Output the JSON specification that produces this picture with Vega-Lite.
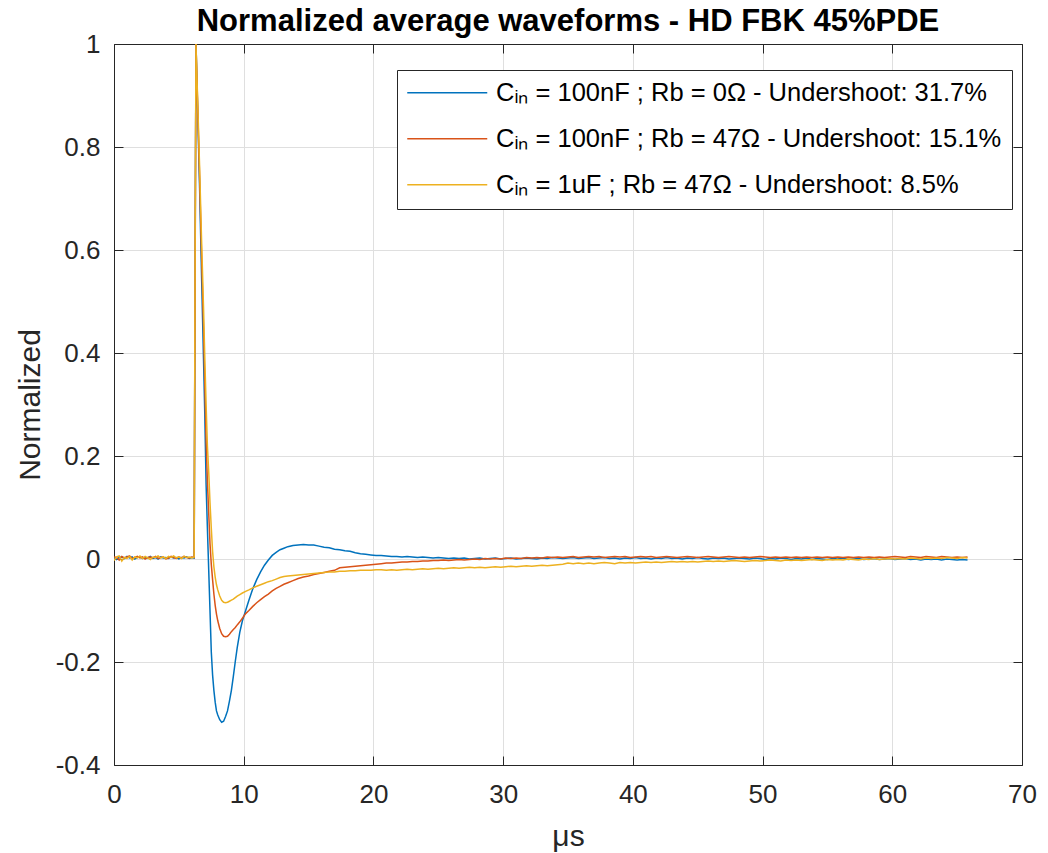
{
  "$schema": "https://vega.github.io/schema/vega-lite/v6.json",
  "width": 908,
  "height": 721,
  "autosize": {"type": "none"},
  "padding": {"left": 114, "top": 44, "right": 26, "bottom": 88},
  "background": "white",
  "title": {
    "text": "Normalized average waveforms - HD FBK 45%PDE",
    "font": "Liberation Sans",
    "fontSize": 31,
    "fontWeight": "bold",
    "color": "#000000",
    "anchor": "middle",
    "baseline": "alphabetic",
    "offset": 1,
    "dy": 32
  },
  "config": {
    "view": {"stroke": null},
    "font": "Liberation Sans",
    "axis": {
      "domainColor": "#262626",
      "domainWidth": 1,
      "tickColor": "#262626",
      "tickWidth": 1,
      "tickSize": -9,
      "labelFont": "Liberation Sans",
      "labelFontSize": 26,
      "labelColor": "#262626",
      "labelFlush": false,
      "labelOverlap": false,
      "gridColor": "#dfdfdf",
      "gridWidth": 1,
      "titleFont": "Liberation Sans",
      "titleFontSize": 30,
      "titleFontWeight": "normal",
      "titleColor": "#262626"
    }
  },
  "data": {
    "values": [
      {"t": 0, "a": 0.002, "b": 0.004, "c": -0.003},
      {"t": 0.2, "a": -0.001, "b": 0.003, "c": 0.004},
      {"t": 0.4, "a": 0.003, "b": -0.002, "c": 0.006},
      {"t": 0.6, "a": 0.004, "b": 0.005, "c": -0.004},
      {"t": 0.8, "a": 0.001, "b": 0.002, "c": 0.003},
      {"t": 1.0, "a": 0.005, "b": 0.004, "c": 0.001},
      {"t": 1.2, "a": 0.002, "b": 0.006, "c": 0.005},
      {"t": 1.4, "a": 0.004, "b": 0.001, "c": -0.002},
      {"t": 1.6, "a": 0.0, "b": 0.003, "c": 0.004},
      {"t": 1.8, "a": 0.003, "b": 0.005, "c": 0.002},
      {"t": 2.0, "a": 0.004, "b": 0.002, "c": 0.006},
      {"t": 2.2, "a": 0.001, "b": 0.004, "c": 0.001},
      {"t": 2.4, "a": 0.003, "b": 0.0, "c": 0.005},
      {"t": 2.6, "a": 0.002, "b": 0.003, "c": 0.002},
      {"t": 2.8, "a": 0.005, "b": 0.004, "c": -0.001},
      {"t": 3.0, "a": 0.001, "b": 0.002, "c": 0.004},
      {"t": 3.2, "a": 0.003, "b": 0.005, "c": 0.003},
      {"t": 3.4, "a": 0.0, "b": 0.001, "c": 0.006},
      {"t": 3.6, "a": 0.004, "b": 0.003, "c": 0.002},
      {"t": 3.8, "a": 0.002, "b": 0.004, "c": 0.004},
      {"t": 4.0, "a": 0.003, "b": 0.0, "c": 0.001},
      {"t": 4.2, "a": 0.001, "b": 0.002, "c": 0.005},
      {"t": 4.4, "a": 0.004, "b": 0.005, "c": 0.003},
      {"t": 4.6, "a": 0.002, "b": 0.003, "c": 0.006},
      {"t": 4.8, "a": 0.003, "b": 0.001, "c": 0.002},
      {"t": 5.0, "a": 0.0, "b": 0.004, "c": 0.004},
      {"t": 5.2, "a": 0.003, "b": 0.002, "c": 0.001},
      {"t": 5.4, "a": 0.002, "b": 0.005, "c": 0.005},
      {"t": 5.6, "a": 0.004, "b": 0.003, "c": 0.003},
      {"t": 5.8, "a": 0.001, "b": 0.002, "c": 0.004},
      {"t": 6.0, "a": 0.003, "b": 0.004, "c": 0.002},
      {"t": 6.18, "a": 0.002, "b": 0.003, "c": 0.004},
      {"t": 6.26, "a": 0.62, "b": 0.6, "c": 0.65},
      {"t": 6.32, "a": 1.0, "b": 1.0, "c": 1.0},
      {"t": 6.45, "a": 0.87, "b": 0.88, "c": 0.89},
      {"t": 6.6, "a": 0.72, "b": 0.74, "c": 0.76},
      {"t": 6.75, "a": 0.55, "b": 0.59, "c": 0.62},
      {"t": 6.9, "a": 0.39, "b": 0.45, "c": 0.49},
      {"t": 7.0, "a": 0.28, "b": 0.34, "c": 0.39},
      {"t": 7.1, "a": 0.145, "b": 0.23, "c": 0.3},
      {"t": 7.2, "a": 0.06, "b": 0.15, "c": 0.22},
      {"t": 7.3, "a": -0.02, "b": 0.09, "c": 0.17},
      {"t": 7.4, "a": -0.1, "b": 0.03, "c": 0.11},
      {"t": 7.5, "a": -0.18, "b": -0.01, "c": 0.06},
      {"t": 7.6, "a": -0.225, "b": -0.04, "c": 0.015},
      {"t": 7.7, "a": -0.255, "b": -0.068, "c": -0.015},
      {"t": 7.8, "a": -0.278, "b": -0.09, "c": -0.035},
      {"t": 7.9, "a": -0.295, "b": -0.107, "c": -0.05},
      {"t": 8.0, "a": -0.303, "b": -0.12, "c": -0.06},
      {"t": 8.15, "a": -0.312, "b": -0.135, "c": -0.072},
      {"t": 8.3, "a": -0.317, "b": -0.145, "c": -0.08},
      {"t": 8.45, "a": -0.315, "b": -0.15, "c": -0.084},
      {"t": 8.6, "a": -0.306, "b": -0.151, "c": -0.085},
      {"t": 8.75, "a": -0.295, "b": -0.15, "c": -0.084},
      {"t": 8.9, "a": -0.276, "b": -0.146, "c": -0.082},
      {"t": 9.05, "a": -0.255, "b": -0.141, "c": -0.08},
      {"t": 9.2, "a": -0.228, "b": -0.137, "c": -0.078},
      {"t": 9.35, "a": -0.199, "b": -0.133, "c": -0.075},
      {"t": 9.5, "a": -0.172, "b": -0.128, "c": -0.072},
      {"t": 9.7, "a": -0.142, "b": -0.122, "c": -0.069},
      {"t": 9.9, "a": -0.12, "b": -0.115, "c": -0.066},
      {"t": 10.15, "a": -0.1, "b": -0.106, "c": -0.063},
      {"t": 10.4, "a": -0.08, "b": -0.1, "c": -0.06},
      {"t": 10.7, "a": -0.058, "b": -0.092, "c": -0.056},
      {"t": 11.0, "a": -0.04, "b": -0.085, "c": -0.053},
      {"t": 11.3, "a": -0.025, "b": -0.079, "c": -0.05},
      {"t": 11.6, "a": -0.012, "b": -0.073, "c": -0.047},
      {"t": 11.9, "a": -0.002, "b": -0.068, "c": -0.044},
      {"t": 12.2, "a": 0.007, "b": -0.062, "c": -0.042},
      {"t": 12.5, "a": 0.013, "b": -0.057, "c": -0.039},
      {"t": 12.8, "a": 0.018, "b": -0.053, "c": -0.036},
      {"t": 13.1, "a": 0.021, "b": -0.049, "c": -0.034},
      {"t": 13.4, "a": 0.024, "b": -0.046, "c": -0.033},
      {"t": 13.8, "a": 0.026, "b": -0.042, "c": -0.032},
      {"t": 14.2, "a": 0.027, "b": -0.038, "c": -0.031},
      {"t": 14.6, "a": 0.028, "b": -0.035, "c": -0.03},
      {"t": 15.0, "a": 0.027, "b": -0.033, "c": -0.029},
      {"t": 15.4, "a": 0.027, "b": -0.03, "c": -0.028},
      {"t": 15.8, "a": 0.025, "b": -0.028, "c": -0.027},
      {"t": 16.2, "a": 0.023, "b": -0.026, "c": -0.026},
      {"t": 16.6, "a": 0.022, "b": -0.024, "c": -0.025},
      {"t": 17.0, "a": 0.019, "b": -0.022, "c": -0.025},
      {"t": 17.4, "a": 0.018, "b": -0.017, "c": -0.024},
      {"t": 17.8, "a": 0.016, "b": -0.016, "c": -0.024},
      {"t": 18.2, "a": 0.015, "b": -0.015, "c": -0.023},
      {"t": 18.6, "a": 0.012, "b": -0.014, "c": -0.023},
      {"t": 19.0, "a": 0.01, "b": -0.013, "c": -0.022},
      {"t": 19.4, "a": 0.009, "b": -0.012, "c": -0.022},
      {"t": 19.8, "a": 0.008, "b": -0.011, "c": -0.022},
      {"t": 20.2, "a": 0.007, "b": -0.01, "c": -0.021},
      {"t": 20.6, "a": 0.007, "b": -0.009, "c": -0.021},
      {"t": 21.0, "a": 0.006, "b": -0.008, "c": -0.022},
      {"t": 21.4, "a": 0.005, "b": -0.008, "c": -0.021},
      {"t": 21.8, "a": 0.005, "b": -0.007, "c": -0.022},
      {"t": 22.2, "a": 0.004, "b": -0.006, "c": -0.021},
      {"t": 22.6, "a": 0.005, "b": -0.006, "c": -0.02},
      {"t": 23.0, "a": 0.004, "b": -0.005, "c": -0.021},
      {"t": 23.4, "a": 0.003, "b": -0.005, "c": -0.02},
      {"t": 23.8, "a": 0.004, "b": -0.004, "c": -0.019},
      {"t": 24.2, "a": 0.003, "b": -0.004, "c": -0.02},
      {"t": 24.6, "a": 0.002, "b": -0.003, "c": -0.019},
      {"t": 25.0, "a": 0.003, "b": -0.003, "c": -0.018},
      {"t": 25.4, "a": 0.002, "b": -0.002, "c": -0.019},
      {"t": 25.8, "a": 0.001, "b": -0.003, "c": -0.018},
      {"t": 26.2, "a": 0.002, "b": -0.002, "c": -0.017},
      {"t": 26.6, "a": 0.001, "b": -0.001, "c": -0.018},
      {"t": 27.0, "a": 0.002, "b": -0.002, "c": -0.017},
      {"t": 27.4, "a": 0.0, "b": -0.001, "c": -0.016},
      {"t": 27.8, "a": 0.001, "b": 0.0, "c": -0.017},
      {"t": 28.2, "a": 0.002, "b": -0.001, "c": -0.016},
      {"t": 28.6, "a": 0.0, "b": 0.001, "c": -0.017},
      {"t": 29.0, "a": 0.001, "b": 0.0, "c": -0.016},
      {"t": 29.4, "a": 0.002, "b": 0.001, "c": -0.015},
      {"t": 29.8, "a": 0.0, "b": 0.0, "c": -0.016},
      {"t": 30.2, "a": 0.001, "b": 0.002, "c": -0.015},
      {"t": 30.6, "a": 0.002, "b": 0.001, "c": -0.014},
      {"t": 31.0, "a": 0.0, "b": 0.002, "c": -0.015},
      {"t": 31.4, "a": 0.001, "b": 0.001, "c": -0.014},
      {"t": 31.8, "a": 0.002, "b": 0.003, "c": -0.013},
      {"t": 32.2, "a": 0.001, "b": 0.002, "c": -0.014},
      {"t": 32.6, "a": 0.0, "b": 0.003, "c": -0.013},
      {"t": 33.0, "a": 0.002, "b": 0.002, "c": -0.012},
      {"t": 33.4, "a": 0.001, "b": 0.004, "c": -0.013},
      {"t": 33.8, "a": 0.003, "b": 0.003, "c": -0.012},
      {"t": 34.2, "a": 0.002, "b": 0.004, "c": -0.011},
      {"t": 34.6, "a": 0.001, "b": 0.003, "c": -0.01},
      {"t": 35.0, "a": 0.002, "b": 0.004, "c": -0.008},
      {"t": 35.4, "a": 0.003, "b": 0.005, "c": -0.009},
      {"t": 35.8, "a": 0.001, "b": 0.003, "c": -0.008},
      {"t": 36.2, "a": 0.002, "b": 0.004, "c": -0.009},
      {"t": 36.6, "a": 0.003, "b": 0.005, "c": -0.008},
      {"t": 37.0, "a": 0.001, "b": 0.004, "c": -0.009},
      {"t": 37.4, "a": 0.002, "b": 0.005, "c": -0.008},
      {"t": 37.8, "a": 0.003, "b": 0.003, "c": -0.007},
      {"t": 38.2, "a": 0.001, "b": 0.004, "c": -0.008},
      {"t": 38.6, "a": 0.002, "b": 0.005, "c": -0.009},
      {"t": 39.0, "a": 0.0, "b": 0.004, "c": -0.007},
      {"t": 39.4, "a": 0.002, "b": 0.005, "c": -0.008},
      {"t": 39.8, "a": 0.001, "b": 0.003, "c": -0.007},
      {"t": 40.2, "a": 0.003, "b": 0.004, "c": -0.008},
      {"t": 40.6, "a": 0.001, "b": 0.005, "c": -0.007},
      {"t": 41.0, "a": 0.002, "b": 0.004, "c": -0.006},
      {"t": 41.4, "a": 0.0, "b": 0.005, "c": -0.007},
      {"t": 41.8, "a": 0.002, "b": 0.003, "c": -0.006},
      {"t": 42.2, "a": 0.001, "b": 0.004, "c": -0.007},
      {"t": 42.6, "a": 0.003, "b": 0.005, "c": -0.006},
      {"t": 43.0, "a": 0.001, "b": 0.004, "c": -0.005},
      {"t": 43.4, "a": 0.002, "b": 0.003, "c": -0.006},
      {"t": 43.8, "a": 0.0, "b": 0.004, "c": -0.005},
      {"t": 44.2, "a": 0.002, "b": 0.005, "c": -0.006},
      {"t": 44.6, "a": 0.001, "b": 0.004, "c": -0.005},
      {"t": 45.0, "a": 0.003, "b": 0.003, "c": -0.006},
      {"t": 45.4, "a": 0.001, "b": 0.004, "c": -0.005},
      {"t": 45.8, "a": 0.0, "b": 0.005, "c": -0.004},
      {"t": 46.2, "a": 0.002, "b": 0.004, "c": -0.005},
      {"t": 46.6, "a": 0.001, "b": 0.003, "c": -0.004},
      {"t": 47.0, "a": 0.002, "b": 0.004, "c": -0.005},
      {"t": 47.4, "a": 0.0, "b": 0.005, "c": -0.004},
      {"t": 47.8, "a": 0.001, "b": 0.004, "c": -0.003},
      {"t": 48.2, "a": 0.002, "b": 0.003, "c": -0.004},
      {"t": 48.6, "a": 0.001, "b": 0.004, "c": -0.005},
      {"t": 49.0, "a": 0.0, "b": 0.003, "c": -0.004},
      {"t": 49.4, "a": 0.002, "b": 0.004, "c": -0.003},
      {"t": 49.8, "a": 0.001, "b": 0.005, "c": -0.004},
      {"t": 50.2, "a": -0.001, "b": 0.004, "c": -0.003},
      {"t": 50.6, "a": 0.001, "b": 0.003, "c": -0.002},
      {"t": 51.0, "a": 0.0, "b": 0.004, "c": -0.003},
      {"t": 51.4, "a": 0.002, "b": 0.003, "c": -0.004},
      {"t": 51.8, "a": 0.001, "b": 0.004, "c": -0.002},
      {"t": 52.2, "a": -0.001, "b": 0.003, "c": -0.003},
      {"t": 52.6, "a": 0.001, "b": 0.004, "c": -0.002},
      {"t": 53.0, "a": 0.0, "b": 0.003, "c": -0.003},
      {"t": 53.4, "a": 0.002, "b": 0.004, "c": -0.002},
      {"t": 53.8, "a": -0.001, "b": 0.003, "c": -0.001},
      {"t": 54.2, "a": 0.001, "b": 0.004, "c": -0.002},
      {"t": 54.6, "a": 0.0, "b": 0.003, "c": -0.003},
      {"t": 55.0, "a": -0.001, "b": 0.004, "c": -0.001},
      {"t": 55.4, "a": 0.001, "b": 0.003, "c": -0.002},
      {"t": 55.8, "a": 0.0, "b": 0.004, "c": -0.001},
      {"t": 56.2, "a": 0.002, "b": 0.003, "c": -0.002},
      {"t": 56.6, "a": -0.001, "b": 0.004, "c": 0.0},
      {"t": 57.0, "a": 0.0, "b": 0.003, "c": -0.001},
      {"t": 57.4, "a": 0.001, "b": 0.004, "c": -0.002},
      {"t": 57.8, "a": -0.001, "b": 0.003, "c": 0.0},
      {"t": 58.2, "a": 0.0, "b": 0.004, "c": -0.001},
      {"t": 58.6, "a": 0.001, "b": 0.003, "c": 0.001},
      {"t": 59.0, "a": -0.001, "b": 0.004, "c": -0.001},
      {"t": 59.4, "a": 0.0, "b": 0.003, "c": 0.0},
      {"t": 59.8, "a": 0.001, "b": 0.004, "c": 0.001},
      {"t": 60.2, "a": -0.001, "b": 0.005, "c": 0.0},
      {"t": 60.6, "a": 0.0, "b": 0.004, "c": 0.001},
      {"t": 61.0, "a": 0.001, "b": 0.003, "c": 0.0},
      {"t": 61.4, "a": -0.001, "b": 0.005, "c": 0.002},
      {"t": 61.8, "a": 0.0, "b": 0.004, "c": 0.001},
      {"t": 62.2, "a": -0.002, "b": 0.003, "c": 0.0},
      {"t": 62.6, "a": 0.0, "b": 0.005, "c": 0.002},
      {"t": 63.0, "a": -0.001, "b": 0.004, "c": 0.001},
      {"t": 63.4, "a": 0.0, "b": 0.003, "c": 0.002},
      {"t": 63.8, "a": -0.002, "b": 0.005, "c": 0.001},
      {"t": 64.2, "a": 0.0, "b": 0.004, "c": 0.003},
      {"t": 64.6, "a": -0.001, "b": 0.003, "c": 0.002},
      {"t": 65.0, "a": -0.002, "b": 0.004, "c": 0.001},
      {"t": 65.4, "a": -0.001, "b": 0.003, "c": 0.003},
      {"t": 65.8, "a": -0.002, "b": 0.004, "c": 0.002}
    ]
  },
  "layer": [
    {
      "mark": {"type": "line", "strokeWidth": 1.5, "clip": true},
      "encoding": {
        "x": {
          "field": "t",
          "type": "quantitative",
          "scale": {"domain": [0, 70], "nice": false, "zero": false},
          "axis": {
            "orient": "bottom",
            "values": [0, 10, 20, 30, 40, 50, 60, 70],
            "grid": true,
            "labelPadding": 25,
            "title": "μs",
            "titlePadding": 14
          }
        },
        "y": {
          "field": "a",
          "type": "quantitative",
          "scale": {"domain": [-0.4, 1], "nice": false, "zero": false},
          "axis": {
            "orient": "left",
            "values": [-0.4, -0.2, 0, 0.2, 0.4, 0.6, 0.8, 1],
            "labelExpr": "toString(datum.value)",
            "grid": true,
            "labelPadding": 23,
            "title": "Normalized",
            "titlePadding": 10
          }
        },
        "color": {
          "datum": "Cᵢₙ = 100nF ; Rb = 0Ω - Undershoot: 31.7%",
          "type": "nominal",
          "scale": {
            "domain": [
              "Cᵢₙ = 100nF ; Rb = 0Ω - Undershoot: 31.7%",
              "Cᵢₙ = 100nF ; Rb = 47Ω - Undershoot: 15.1%",
              "Cᵢₙ = 1uF ; Rb = 47Ω - Undershoot: 8.5%"
            ],
            "range": ["#0072BD", "#D95319", "#EDB120"]
          },
          "legend": {
            "orient": "none",
            "legendX": 283,
            "legendY": 26,
            "title": null,
            "symbolType": "M-4,0H4",
            "symbolSize": 400,
            "symbolStrokeWidth": 1.5,
            "symbolOffset": 27.5,
            "labelOffset": 36,
            "labelFont": "Liberation Sans",
            "labelFontSize": 25.5,
            "labelColor": "#000000",
            "labelLimit": 0,
            "rowPadding": 19,
            "padding": 10,
            "strokeColor": "#262626",
            "fillColor": "#ffffff",
            "cornerRadius": 0
          }
        }
      }
    },
    {
      "mark": {"type": "line", "strokeWidth": 1.5, "clip": true},
      "encoding": {
        "x": {
          "field": "t",
          "type": "quantitative",
          "axis": {
            "orient": "top",
            "values": [0, 10, 20, 30, 40, 50, 60, 70],
            "grid": false,
            "labels": false,
            "title": null
          }
        },
        "y": {
          "field": "b",
          "type": "quantitative",
          "axis": {
            "orient": "right",
            "values": [-0.4, -0.2, 0, 0.2, 0.4, 0.6, 0.8, 1],
            "grid": false,
            "labels": false,
            "title": null
          }
        },
        "color": {"datum": "Cᵢₙ = 100nF ; Rb = 47Ω - Undershoot: 15.1%", "type": "nominal"}
      }
    },
    {
      "mark": {"type": "line", "strokeWidth": 1.5, "clip": true},
      "encoding": {
        "x": {"field": "t", "type": "quantitative", "axis": null},
        "y": {"field": "c", "type": "quantitative", "axis": null},
        "color": {"datum": "Cᵢₙ = 1uF ; Rb = 47Ω - Undershoot: 8.5%", "type": "nominal"}
      }
    }
  ],
  "resolve": {"axis": {"x": "independent", "y": "independent"}}
}
